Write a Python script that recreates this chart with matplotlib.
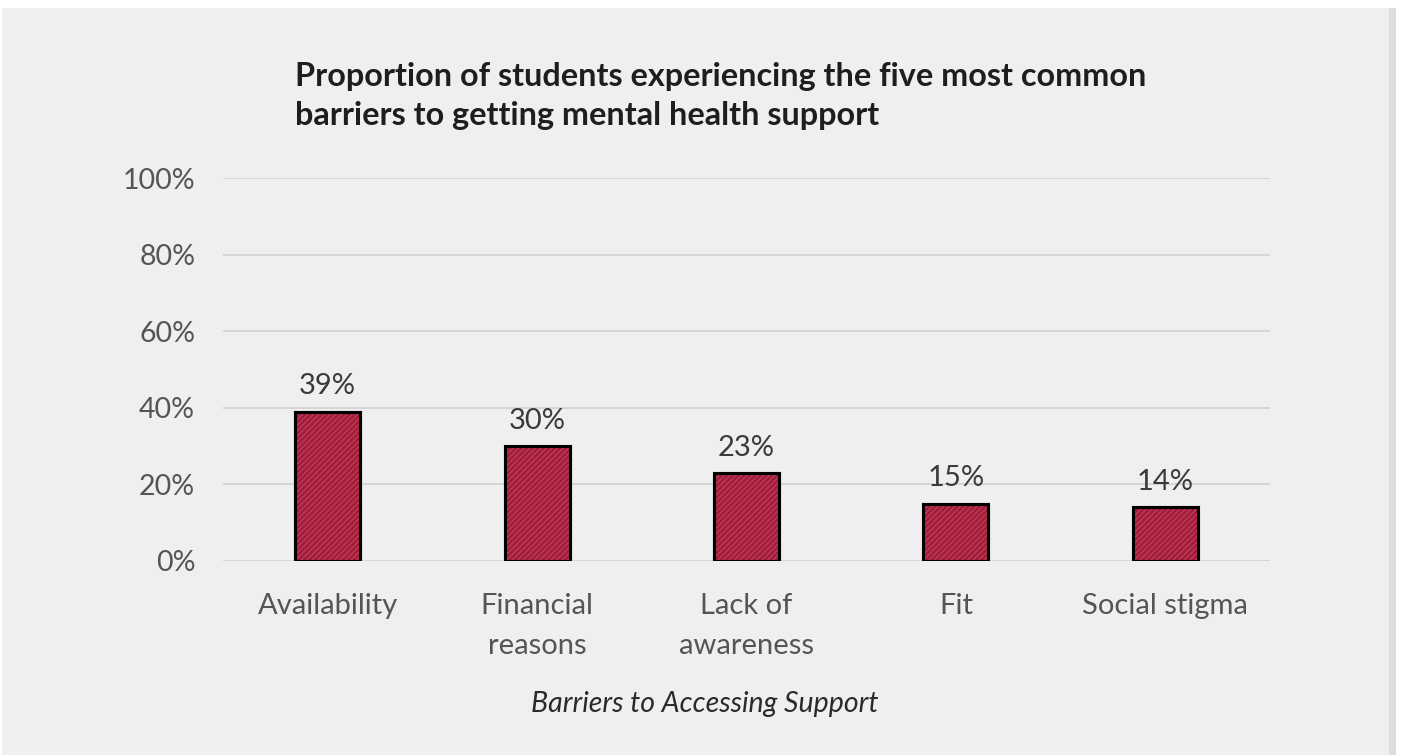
import matplotlib.pyplot as plt
from matplotlib.patches import Rectangle
from matplotlib.ticker import FixedLocator

categories = ['Availability', 'Financial\nreasons', 'Lack of\nawareness', 'Fit', 'Social stigma']
values = [39, 30, 23, 15, 14]
value_labels = ['39%', '30%', '23%', '15%', '14%']
yticks = [0, 20, 40, 60, 80, 100]
ytick_labels = ['0%', '20%', '40%', '60%', '80%', '100%']

title = 'Proportion of students experiencing the five most common\nbarriers to getting mental health support'
xlabel = 'Barriers to Accessing Support'

bar_color = '#a51d3b'

fig = plt.figure(figsize=(14.04, 7.55), dpi=100, facecolor='white')

# paper-like backdrop
fig.patches.append(Rectangle((0.0015, 0), 0.993, 0.989, transform=fig.transFigure,
                             facecolor='#efefef', edgecolor='none', zorder=-10))
fig.patches.append(Rectangle((0.989, 0), 0.0055, 0.989, transform=fig.transFigure,
                             facecolor='#dedede', edgecolor='none', zorder=-9))

ax = fig.add_axes([0.1588, 0.257, 0.7458, 0.5072])
ax.set_facecolor('none')

x = range(len(categories))
ax.bar(x, values, width=0.31, color=bar_color, edgecolor='black', linewidth=2.2, zorder=3)
plt.rcParams['hatch.linewidth'] = 0.5
ax.bar(x, values, width=0.31, color='none', edgecolor='#e6a3b0', hatch='//////',
       linewidth=0, alpha=0.45, zorder=4)
ax.bar(x, values, width=0.31, color='none', edgecolor='black', linewidth=2.2, zorder=5)

for i, v in enumerate(values):
    ax.text(i, v + 3.2, value_labels[i], ha='center', va='bottom', fontsize=21,
            family='Lato', color='#3a3a3a')

ax.set_xlim(-0.5, 4.5)
ax.set_ylim(0, 100)
ax.yaxis.set_major_locator(FixedLocator(yticks))
ax.set_yticklabels(ytick_labels, fontsize=20.5, family='Lato', color='#555555')
ax.set_xticks(list(x))
ax.set_xticklabels(categories, fontsize=21, family='Lato', color='#555555', linespacing=1.68)
ax.tick_params(axis='both', length=0)
ax.tick_params(axis='y', pad=20)
ax.tick_params(axis='x', pad=23)
ax.grid(axis='y', color='#d2d2d2', linewidth=1.2, zorder=0)
for s in ax.spines.values():
    s.set_visible(False)

fig.text(0.21, 0.918, title, ha='left', va='top', fontsize=23.3, fontweight='bold',
         family='Lato', color='#1e1e1e', linespacing=1.4)
fig.text(0.502, 0.067, xlabel, ha='center', va='center', fontsize=20.5, style='italic',
         family='Lato', color='#2a2a2a')

plt.savefig('out.png', dpi=100, facecolor=fig.get_facecolor())
